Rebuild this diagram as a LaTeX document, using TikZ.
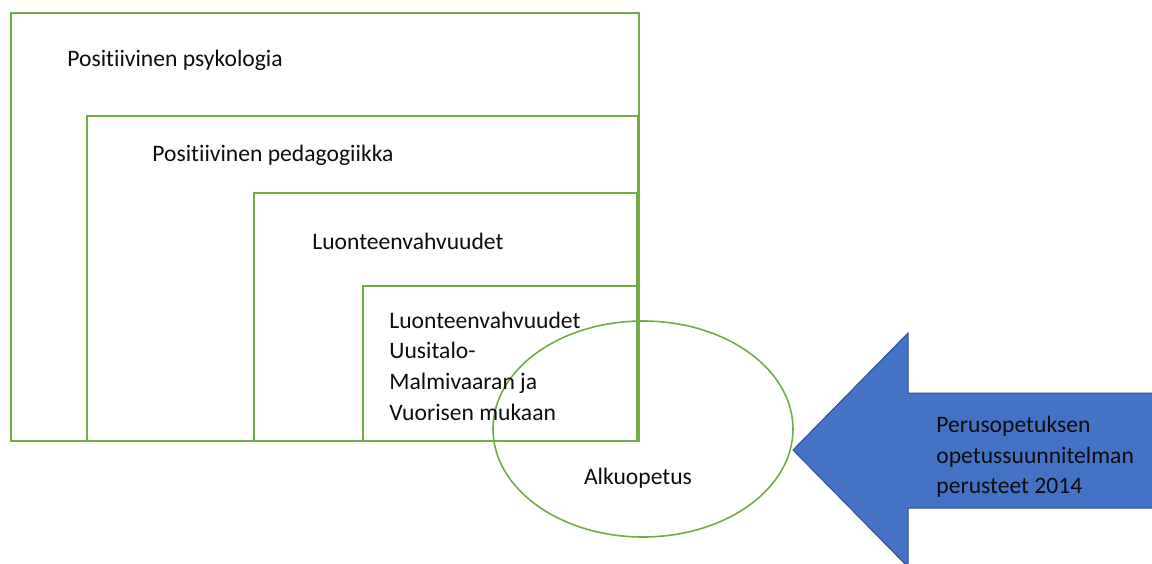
\documentclass[tikz,border=0pt]{standalone}
\usepackage{fontspec}
\setmainfont[Ligatures={NoCommon}]{Carlito}
\usetikzlibrary{shapes.geometric}
\definecolor{boxgreen}{HTML}{70AD47}
\definecolor{arrowblue}{HTML}{4472C4}
\definecolor{arrowedge}{HTML}{2F528F}
\definecolor{txt}{HTML}{0D0D0D}
\tikzset{
  frame/.style={draw=boxgreen, line width=1.2pt},
  lbl/.style={inner sep=0pt, anchor=west, text=txt, font=\fontsize{11.8pt}{15.3pt}\selectfont},
  mlbl/.style={lbl, align=left},
}
\begin{document}
\begin{tikzpicture}[x=0.5pt,y=-0.5pt]
\useasboundingbox (0,0) rectangle (1152,563);
\begin{scope}
\clip (0,0) rectangle (1152,563);
% nested frames
\draw[frame] (11,13) rectangle (639,441);
\draw[frame] (87,116) rectangle (638,441);
\draw[frame] (254,193) rectangle (637,441);
\draw[frame] (363,286) rectangle (637,441);
% ellipse
\node[draw=boxgreen, line width=0.8pt, ellipse, minimum width=150pt, minimum height=108pt, inner sep=0pt] (alku) at (643,429) {};
% arrow
\filldraw[fill=arrowblue, draw=arrowedge, line width=0.5pt]
  (1160,393) -- (908,393) -- (908,333) -- (793,450) -- (908,567) -- (908,508) -- (1160,508) -- cycle;
\end{scope}
% labels
\node[lbl] (psy) at (67,60) {Positiivinen psykologia};
\node[lbl] (ped) at (152,155) {Positiivinen pedagogiikka};
\node[lbl] (luo) at (312,241) {Luonteenvahvuudet};
\node[mlbl] (um) at (389,366) {Luonteenvahvuudet\\Uusitalo-\\Malmivaaran ja\\Vuorisen mukaan};
\node[lbl, anchor=center] (alkut) at (638,478) {Alkuopetus};
\node[mlbl] (pops) at (936,457) {Perusopetuksen\\opetussuunnitelman\\perusteet 2014};
\end{tikzpicture}
\end{document}
